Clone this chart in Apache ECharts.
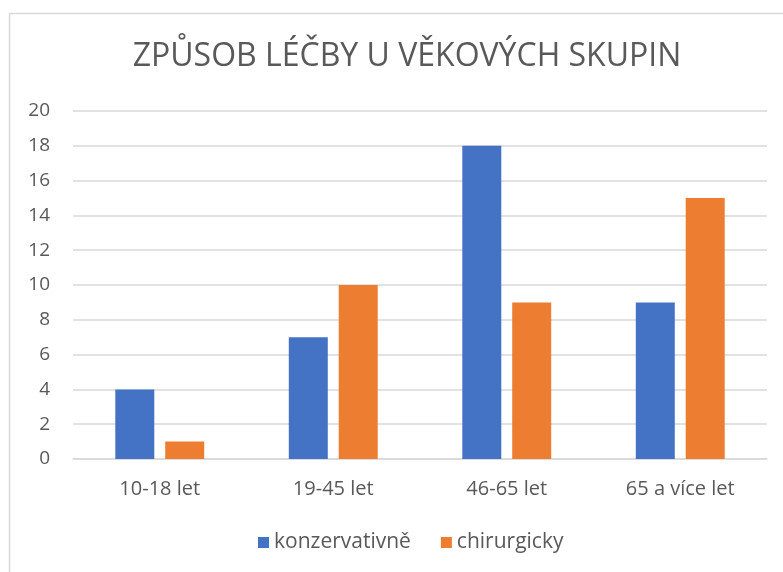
<!DOCTYPE html>
<html>
<head>
<meta charset="utf-8">
<script src="https://cdn.jsdelivr.net/npm/echarts@6/dist/echarts.min.js"></script>
<style>
    html, body { margin: 0; padding: 0; background: #fff; }
    #chart { width: 783px; height: 572px; }
</style>
</head>
<body>
<div id="chart"></div>
<script>
    var categories = ['10-18 let', '19-45 let', '46-65 let', '65 a více let'];
    var konzervativne = [4, 7, 18, 9];
    var chirurgicky = [1, 10, 9, 15];
    var seriesNames = ['konzervativně', 'chirurgicky'];

    var font = '"Open Sans", "Noto Sans", sans-serif';
    var chart = echarts.init(document.getElementById('chart'));
    chart.setOption({
        animation: false,
        backgroundColor: '#fff',
        textStyle: { fontFamily: font },
        graphic: [{
            type: 'rect',
            shape: { x: 9.5, y: 13.5, width: 800, height: 600 },
            style: { fill: 'none', stroke: '#d9d9d9', lineWidth: 1.5 },
            silent: true
        }],
        title: {
            text: 'ZPŮSOB LÉČBY U VĚKOVÝCH SKUPIN',
            left: 402,
            top: 36,
            textAlign: 'center',
            textStyle: { fontFamily: font, fontSize: 32, fontWeight: 'normal', color: '#595959' }
        },
        legend: {
            data: seriesNames,
            bottom: 14,
            left: 253,
            itemWidth: 11,
            itemHeight: 11,
            itemGap: 30,
            icon: 'rect',
            textStyle: { fontFamily: font, fontSize: 21, color: '#595959' }
        },
        grid: { left: 73, right: 16, top: 111, bottom: 113 },
        xAxis: {
            type: 'category',
            data: categories,
            axisLine: { lineStyle: { color: '#d9d9d9', width: 1.5 } },
            axisTick: { show: false },
            axisLabel: { fontFamily: font, fontSize: 20, color: '#595959', margin: 20 }
        },
        yAxis: {
            type: 'value',
            min: 0,
            max: 20,
            interval: 2,
            axisLine: { show: false },
            axisTick: { show: false },
            splitLine: { lineStyle: { color: '#d9d9d9', width: 1.5 } },
            axisLabel: { fontFamily: font, fontSize: 19, color: '#595959', margin: 23 }
        },
        series: [
            {
                name: seriesNames[0],
                type: 'bar',
                data: konzervativne,
                barWidth: 39,
                barGap: '28%',
                itemStyle: { color: '#4472c4' }
            },
            {
                name: seriesNames[1],
                type: 'bar',
                data: chirurgicky,
                barWidth: 39,
                barGap: '28%',
                itemStyle: { color: '#ed7d31' }
            }
        ]
    });
</script>
</body>
</html>
